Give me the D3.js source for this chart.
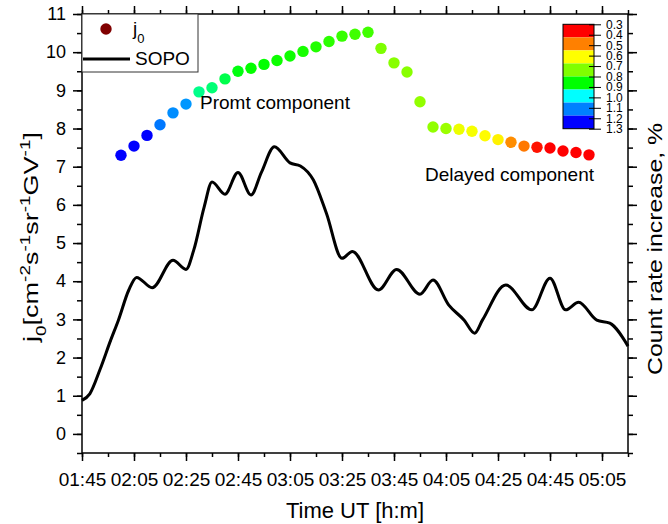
<!DOCTYPE html>
<html>
<head>
<meta charset="utf-8">
<script src="https://cdn.jsdelivr.net/npm/d3@7"></script>
<style>
  body { margin: 0; background: #fff; }
  svg { font-family: Arial, "Liberation Sans", sans-serif; }
</style>
</head>
<body>
<svg id="chart" width="668" height="524"></svg>
<script>
// SOPO curve
const sopoTimes = ["01:45","01:48","01:52","01:56","01:59","02:03","02:06","02:12","02:20","02:25","02:28","02:32","02:35","02:40","02:45","02:50","02:54","02:59","03:05","03:09","03:14","03:19","03:25","03:29","03:39","03:46","03:55","04:00","04:06","04:12","04:16","04:19","04:28","04:38","04:45","04:51","04:56","05:03","05:08","05:15"];
const sopoValues = [0.88,1.05,1.7,2.45,2.98,3.77,4.10,3.83,4.55,4.31,4.82,5.95,6.60,6.28,6.85,6.26,6.85,7.52,7.10,7.02,6.65,5.78,4.60,4.78,3.77,4.31,3.66,4.03,3.38,2.98,2.64,2.98,3.90,3.25,4.08,3.25,3.45,2.98,2.90,2.30];

// j0 points, every 5 minutes
const j0Times = ["02:00","02:05","02:10","02:15","02:20","02:25","02:30","02:35","02:40","02:45","02:50","02:55","03:00","03:05","03:10","03:15","03:20","03:25","03:30","03:35","03:40","03:45","03:50","03:55","04:00","04:05","04:10","04:15","04:20","04:25","04:30","04:35","04:40","04:45","04:50","04:55","05:00"];
const j0Values = [7.30,7.54,7.82,8.10,8.41,8.64,8.96,9.07,9.30,9.50,9.58,9.68,9.78,9.90,10.02,10.14,10.28,10.42,10.47,10.52,10.10,9.72,9.48,8.70,8.04,8.00,7.98,7.93,7.81,7.71,7.64,7.54,7.51,7.49,7.41,7.37,7.31];
// count rate increase, % (colour of each point)
const j0Rate = [1.30,1.28,1.25,1.12,1.10,1.09,0.93,0.92,0.90,0.87,0.86,0.86,0.85,0.85,0.84,0.83,0.82,0.81,0.80,0.80,0.74,0.73,0.73,0.72,0.72,0.71,0.63,0.62,0.61,0.60,0.50,0.48,0.38,0.36,0.35,0.34,0.33];

const xTickLabels = ["01:45","02:05","02:25","02:45","03:05","03:25","03:45","04:05","04:25","04:45","05:05"];
const yTicks = [0,1,2,3,4,5,6,7,8,9,10,11];
const bandStops = [0.3,0.425,0.55,0.675,0.8,0.925,1.05,1.175,1.3];
const bandColors = ["#ff0000","#ff8000","#ffff00","#80ff00","#00ff00","#00ffff","#0080ff","#0000ff"];
const cbTicks = ["0.3","0.4","0.5","0.6","0.7","0.8","0.9","1.0","1.1","1.2","1.3"];

(() => {
const svg = d3.select("#chart");
const parseT = d3.timeParse("%H:%M");
const pl = 82, pr = 628, pt = 14, pb = 453;

const x = d3.scaleTime().domain([parseT("01:45"), parseT("05:15")]).range([pl, pr]);
const y = d3.scaleLinear().domain([-0.5, 11]).range([pb, pt]);

const bandCenters = bandStops.slice(0, -1).map((d, i) => (d + bandStops[i + 1]) / 2);
const color = d3.scaleLinear().domain(bandCenters).range(bandColors).clamp(true);

const xMajor = xTickLabels.map(parseT);
const xMinor = d3.range(0, 211, 10).map(m => d3.timeMinute.offset(parseT("01:45"), m));
const yMinor = d3.range(-0.5, 11.01, 0.5);

// stretch a text along its run so it is as long as in the picture
function fitLength(sel, target) {
  let w = sel.node().getComputedTextLength();
  sel.attr("transform", sel.attr("transform") + " scale(" + (target / w) + ",1)");
}

// axes, ticks outward on all four sides
svg.append("g").attr("transform", "translate(0," + pb + ")")
  .call(d3.axisBottom(x).tickValues(xMinor).tickSize(4).tickFormat(""));
let gx = svg.append("g").attr("transform", "translate(0," + pb + ")")
  .call(d3.axisBottom(x).tickValues(xMajor).tickSize(8).tickPadding(12).tickFormat(d3.timeFormat("%H:%M")));
gx.selectAll("text").attr("font-size", 19).attr("fill", "#000");

svg.append("g").attr("transform", "translate(0," + pt + ")")
  .call(d3.axisTop(x).tickValues(xMinor).tickSize(4).tickFormat(""));
svg.append("g").attr("transform", "translate(0," + pt + ")")
  .call(d3.axisTop(x).tickValues(xMajor).tickSize(8).tickFormat(""));

svg.append("g").attr("transform", "translate(" + pl + ",0)")
  .call(d3.axisLeft(y).tickValues(yMinor).tickSize(5).tickFormat(""));
let gy = svg.append("g").attr("transform", "translate(" + pl + ",0)")
  .call(d3.axisLeft(y).tickValues(yTicks).tickSize(9).tickPadding(7));
gy.selectAll("text").attr("font-size", 18).attr("fill", "#000");

svg.append("g").attr("transform", "translate(" + pr + ",0)")
  .call(d3.axisRight(y).tickValues(yMinor).tickSize(5).tickFormat(""));
svg.append("g").attr("transform", "translate(" + pr + ",0)")
  .call(d3.axisRight(y).tickValues(yTicks).tickSize(9).tickFormat(""));

svg.selectAll(".domain").remove();
svg.selectAll(".tick line").attr("stroke", "#000").attr("stroke-width", 1.5);

svg.append("rect").attr("x", pl).attr("y", pt)
  .attr("width", pr - pl).attr("height", pb - pt)
  .attr("fill", "none").attr("stroke", "#000").attr("stroke-width", 1.5);

// SOPO line
const sopo = sopoTimes.map((t, i) => ({t: parseT(t), v: sopoValues[i]}));
svg.append("path").datum(sopo)
  .attr("fill", "none").attr("stroke", "#000").attr("stroke-width", 3)
  .attr("d", d3.line().x(d => x(d.t)).y(d => y(d.v)).curve(d3.curveMonotoneX));

// j0 points
const j0 = j0Times.map((t, i) => ({t: parseT(t), v: j0Values[i], r: j0Rate[i]}));
svg.append("g").selectAll("circle").data(j0).enter().append("circle")
  .attr("cx", d => x(d.t)).attr("cy", d => y(d.v)).attr("r", 5.7)
  .attr("fill", d => color(d.r));

// annotations
svg.append("text").attr("x", 200).attr("y", 109).attr("font-size", 19).text("Promt component");
svg.append("text").attr("x", 425).attr("y", 181).attr("font-size", 19).text("Delayed component");

// colour bar
const cb = d3.scaleLinear().domain([0.3, 1.3]).range([24.3, 128.7]);
const cbX = 563, cbW = 31;
svg.append("g").selectAll("rect").data(bandColors).enter().append("rect")
  .attr("x", cbX).attr("width", cbW)
  .attr("y", (d, i) => cb(bandStops[i]))
  .attr("height", (d, i) => cb(bandStops[i + 1]) - cb(bandStops[i]))
  .attr("fill", d => d);
svg.append("rect").attr("x", cbX).attr("y", cb(0.3)).attr("width", cbW)
  .attr("height", cb(1.3) - cb(0.3)).attr("fill", "none").attr("stroke", "#000").attr("stroke-width", 1);
let gcb = svg.append("g").attr("transform", "translate(" + (cbX + cbW) + ",0)")
  .call(d3.axisRight(cb).tickValues(cbTicks.map(Number)).tickSize(7).tickPadding(5).tickFormat(d3.format(".1f")));
gcb.select(".domain").remove();
gcb.selectAll(".tick line").attr("x1", -5).attr("stroke", "#000").attr("stroke-width", 1);
gcb.selectAll("text").attr("font-size", 12).attr("fill", "#000");

// legend
const lg = svg.append("g");
lg.append("rect").attr("x", 82).attr("y", 14).attr("width", 116).attr("height", 58)
  .attr("fill", "#fff").attr("stroke", "#333").attr("stroke-width", 1);
lg.append("circle").attr("cx", 106).attr("cy", 29).attr("r", 5.7).attr("fill", "#800000");
let lj = lg.append("text").attr("x", 133).attr("y", 35).attr("font-size", 19);
lj.append("tspan").text("j");
lj.append("tspan").attr("baseline-shift", "sub").attr("font-size", 13).text("0");
lg.append("line").attr("x1", 83).attr("x2", 130).attr("y1", 59).attr("y2", 59)
  .attr("stroke", "#000").attr("stroke-width", 3);
lg.append("text").attr("x", 135).attr("y", 65).attr("font-size", 19).text("SOPO");

// axis titles
svg.append("text").attr("x", 355).attr("y", 518).attr("font-size", 22)
  .attr("text-anchor", "middle").text("Time UT [h:m]");

let yt = svg.append("text").attr("font-size", 20).attr("text-anchor", "middle")
  .attr("transform", "translate(38,237) rotate(-90)");
[["j", ""], ["0", "sub"], ["[cm", ""], ["-2", "super"], ["s", ""], ["-1", "super"],
 ["sr", ""], ["-1", "super"], ["GV", ""], ["-1", "super"], ["]", ""]].forEach(p => {
  let ts = yt.append("tspan").text(p[0]);
  if (p[1]) ts.attr("baseline-shift", p[1]).attr("font-size", 14);
});
fitLength(yt, 210);

let rt = svg.append("text").attr("font-size", 21).attr("text-anchor", "middle")
  .attr("transform", "translate(662,249) rotate(-90)").text("Count rate increase, %");
fitLength(rt, 252);
})();
</script>
</body>
</html>
